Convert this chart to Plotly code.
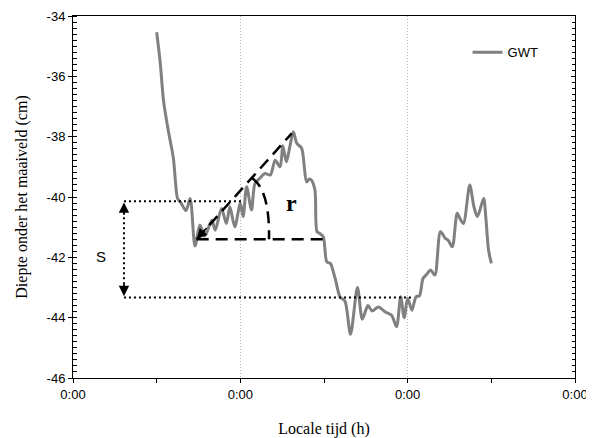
import plotly.graph_objects as go

# Time in hours from start of axis (axis spans 3 days), groundwater depth (cm)
hours = [12.0, 12.5, 13.0, 13.7, 14.4, 14.7, 15.0, 15.5, 16.2, 16.8,
         17.5, 18.2, 18.9, 19.9, 20.4, 21.3, 22.0, 22.5, 23.2, 24.0,
         24.4, 24.9, 25.6, 26.1, 26.8, 27.5, 28.3, 29.0, 29.7, 30.1,
         30.6, 31.1, 31.6, 32.1, 32.8, 33.5, 33.9, 34.2, 34.7, 35.0,
         35.4, 35.9, 36.4, 36.9, 37.6, 38.3, 39.0, 39.8, 40.8, 41.5,
         42.3, 42.9, 43.8, 44.8, 45.7, 46.4, 47.0, 47.5, 48.0, 48.6,
         49.2, 49.7, 50.2, 50.7, 51.3, 51.9, 52.7, 53.4, 53.8, 54.4,
         55.1, 55.5, 56.0, 56.9, 57.5, 58.0, 58.9, 59.2, 59.6, 60.0]
depth = [-34.54, -35.52, -36.84, -37.84, -38.72, -39.5, -40.05, -40.2, -40.45, -40.05,
         -41.62, -40.93, -41.3, -40.77, -41.1, -40.38, -40.88, -40.32, -40.99, -40.21,
         -40.65, -39.66, -40.43, -39.55, -39.38, -39.22, -39.27, -38.78, -39.0, -38.3,
         -38.83, -38.33, -37.84, -38.22, -38.39, -39.5, -39.4, -39.44, -39.77, -41.15,
         -41.21, -41.32, -42.15, -42.2, -42.7, -43.31, -43.45, -44.55, -43.0, -44.05,
         -43.6, -43.78, -43.65, -43.81, -43.92, -44.3, -43.31, -44.0, -43.36, -43.75,
         -43.31, -43.27, -42.7, -42.57, -42.42, -42.59, -41.15, -41.37, -41.43, -41.65,
         -40.54, -40.71, -40.88, -39.6, -40.32, -40.65, -40.05, -40.65, -41.76, -42.2]

x_tickvals = [0, 24, 48, 72]
x_ticktext = ["0:00", "0:00", "0:00", "0:00"]
y_tickvals = [-46, -44, -42, -40, -38, -36, -34]
y_ticktext = ["-46", "-44", "-42", "-40", "-38", "-36", "-34"]

# annotation geometry (data units)
s_x = 7.31
s_top, s_bottom = -40.14, -43.33
s_top_end, s_bottom_end = 24.4, 48.6
r_x0, r_y0 = 17.74, -41.40
r_x1, r_y1 = 31.37, -37.89
r_hend = 36.4

sans = "Liberation Sans, Arial, sans-serif"
serif = "Liberation Serif, Times New Roman, serif"

fig = go.Figure()
fig.add_trace(go.Scatter(x=hours, y=depth, mode="lines", name="GWT",
                         line=dict(color="#808080", width=3, shape="spline", smoothing=0.8)))
fig.add_trace(go.Scatter(x=[None], y=[None], yaxis="y2", showlegend=False, hoverinfo="skip"))

dotted = dict(color="black", width=2, dash="2px,3px")
dashed = dict(color="black", width=2.5, dash="12px,7px")

fig.add_shape(type="line", x0=s_x, x1=s_top_end, y0=s_top, y1=s_top, line=dotted)
fig.add_shape(type="line", x0=s_x, x1=s_bottom_end, y0=s_bottom, y1=s_bottom, line=dotted)
fig.add_shape(type="line", x0=s_x, x1=s_x, y0=s_top - 0.2, y1=s_bottom + 0.2, line=dotted)

fig.add_shape(type="line", x0=r_x0, x1=r_hend, y0=r_y0, y1=r_y0, line=dashed)
fig.add_shape(type="line", x0=r_x0, x1=r_x1, y0=r_y0, y1=r_y1, line=dashed)
fig.add_shape(type="path", path=f"M 25.67,-39.37 Q 28.25,-39.77 28.11,{r_y0}", line=dashed)

arrow = dict(xref="x", yref="y", axref="x", ayref="y", showarrow=True, arrowhead=2,
             arrowsize=1.3, arrowwidth=1.6, arrowcolor="black", text="", standoff=0)
fig.add_annotation(x=s_x, y=s_top - 0.04, ax=s_x, ay=s_top - 0.5, **arrow)
fig.add_annotation(x=s_x, y=s_bottom + 0.04, ax=s_x, ay=s_bottom + 0.5, **arrow)
fig.add_annotation(x=r_x0, y=r_y0, ax=r_x0 + 1.6, ay=r_y0 + 0.42, **arrow)

fig.add_annotation(x=4.0, y=-41.96, text="S", showarrow=False, xref="x", yref="y",
                   font=dict(family=sans, size=15, color="black"))
fig.add_annotation(x=31.4, y=-40.2, text="<b>r</b>", showarrow=False, xref="x", yref="y",
                   font=dict(family=serif, size=24, color="black"))

fig.update_layout(
    width=594, height=438,
    margin=dict(l=65, r=27, t=8, b=68),
    paper_bgcolor="white", plot_bgcolor="white",
    showlegend=True,
    legend=dict(x=0.786, y=0.90, xanchor="left", yanchor="middle",
                bgcolor="rgba(0,0,0,0)", font=dict(family=sans, size=13, color="black")),
    xaxis=dict(range=[0, 72], tickmode="array", tickvals=x_tickvals, ticktext=x_ticktext,
               automargin=False,
               ticks="outside", ticklen=4, tickcolor="black", tickwidth=1,
               minor=dict(dtick=12, ticks="outside", ticklen=4, tickcolor="black", showgrid=False),
               showline=True, linecolor="black", linewidth=1, mirror=True,
               showgrid=True, gridcolor="#b4b4b4", griddash="1px,2px", gridwidth=1,
               zeroline=False,
               tickfont=dict(family=sans, size=13, color="black"),
               title=dict(text="Locale tijd (h)", font=dict(family=serif, size=16, color="black"),
                          standoff=22)),
    yaxis=dict(range=[-46, -34], tickmode="array", tickvals=y_tickvals, ticktext=y_ticktext,
               automargin=False,
               ticks="outside", ticklen=4, tickcolor="black",
               minor=dict(dtick=0.2, ticks="inside", ticklen=4, tickcolor="black", showgrid=False),
               showline=True, linecolor="black", linewidth=1, mirror=True,
               showgrid=False, zeroline=False,
               tickfont=dict(family=sans, size=13, color="black"),
               title=dict(text="Diepte onder het maaiveld (cm)",
                          font=dict(family=serif, size=16, color="black"), standoff=15)),
    yaxis2=dict(overlaying="y", side="right", matches="y", range=[-46, -34], automargin=False,
                tickmode="array", tickvals=y_tickvals, ticks="inside", ticklen=4,
                tickcolor="black", showticklabels=False, showgrid=False, zeroline=False,
                minor=dict(dtick=0.2, ticks="inside", ticklen=3, tickcolor="black", showgrid=False),
                showline=False),
)

fig.write_html("out.html")
